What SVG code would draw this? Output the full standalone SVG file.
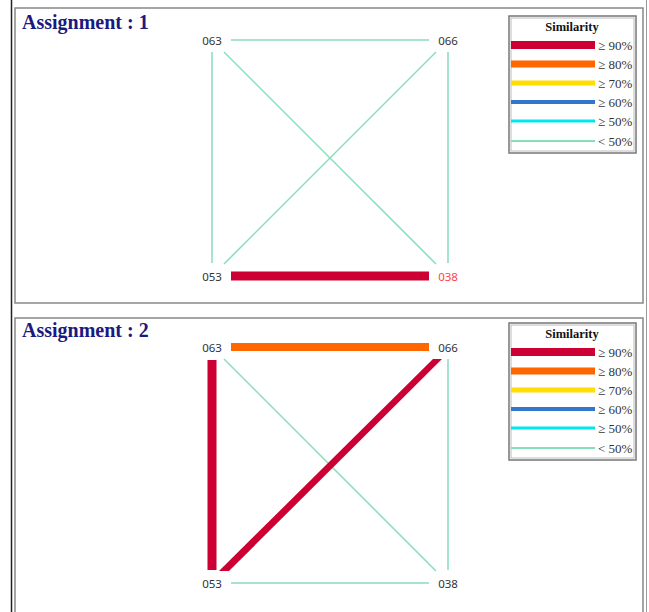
<svg xmlns="http://www.w3.org/2000/svg" width="649" height="612" viewBox="0 0 649 612">
<style>
.title{font-family:"Liberation Serif",serif;font-weight:bold;font-size:20px;fill:#1a1a80}
.lbl{font-family:"Noto Sans","DejaVu Sans",sans-serif;font-size:11.5px;fill:#333;text-anchor:middle;dominant-baseline:central}
.lgt{font-family:"Liberation Serif",serif;font-weight:bold;font-size:12.5px;fill:#111;text-anchor:middle}
.lgl{font-family:"Liberation Serif",serif;font-size:13px;fill:#333;dominant-baseline:central}
.panel{fill:#fff;stroke:#888;stroke-width:1.5}
.panelIn{fill:none;stroke:#bbb;stroke-width:1}
.lgbox{fill:#fff;stroke:#777;stroke-width:1.5}
.lgboxIn{fill:none;stroke:#bbb;stroke-width:1}
.c90{stroke:#cc0033;fill:none}
.c80{stroke:#ff6600;fill:none}
.c70{stroke:#ffdd00;fill:none}
.c60{stroke:#3377cc;fill:none}
.c50{stroke:#00e8ee;fill:none}
.c0{stroke:#88ddbb;fill:none}
</style>
<rect width="649" height="612" fill="#fff"/>
<line x1="11.5" y1="0" x2="11.5" y2="612" stroke="#222" stroke-width="1.5"/>
<line x1="646.5" y1="0" x2="646.5" y2="612" stroke="#999" stroke-width="1"/>

<g id="panel1">
<rect class="panel" x="15" y="8" width="628" height="295"/>
<text class="title" x="22" y="29">Assignment : 1</text>
</g>
<g id="legend1">
<rect class="lgbox" x="509" y="16" width="127" height="137"/>
<rect class="lgboxIn" x="511" y="18" width="123" height="133"/>
<text class="lgt" x="572" y="31">Similarity</text>
<line class="c90" x1="511" y1="45" x2="595" y2="45" stroke-width="8"/><text class="lgl" x="598" y="45">≥ 90%</text>
<line class="c80" x1="511" y1="64" x2="595" y2="64" stroke-width="7"/><text class="lgl" x="598" y="64">≥ 80%</text>
<line class="c70" x1="511" y1="83" x2="595" y2="83" stroke-width="5"/><text class="lgl" x="598" y="83">≥ 70%</text>
<line class="c60" x1="511" y1="102" x2="595" y2="102" stroke-width="4"/><text class="lgl" x="598" y="102">≥ 60%</text>
<line class="c50" x1="511" y1="121" x2="595" y2="121" stroke-width="3"/><text class="lgl" x="598" y="121">≥ 50%</text>
<line class="c0" x1="511" y1="141" x2="595" y2="141" stroke-width="2"/><text class="lgl" x="598" y="141">&lt; 50%</text>
</g>
<g id="connectors1">
<line class="c0" x1="231" y1="40" x2="429" y2="40" stroke-width="1.5"/>
<line class="c0" x1="212" y1="52" x2="212" y2="263" stroke-width="1.5"/>
<line class="c0" x1="448" y1="52" x2="448" y2="263" stroke-width="1.5"/>
<line class="c0" x1="224" y1="52" x2="436" y2="264" stroke-width="1.5"/>
<line class="c0" x1="436" y1="52" x2="224" y2="264" stroke-width="1.5"/>
<line class="c90" x1="231" y1="276" x2="429" y2="276" stroke-width="9"/>
</g>
<g id="n1-063"><text class="lbl" x="212" y="40">063</text></g>
<g id="n1-066"><text class="lbl" x="448" y="40">066</text></g>
<g id="n1-053"><text class="lbl" x="212" y="276">053</text></g>
<g id="n1-038"><text class="lbl" x="448" y="276" style="fill:#ff4444">038</text></g>

<g id="panel2">
<rect class="panel" x="15" y="318" width="628" height="300"/>
<text class="title" x="22" y="337">Assignment : 2</text>
</g>
<g id="legend2">
<rect class="lgbox" x="509" y="323" width="127" height="137"/>
<rect class="lgboxIn" x="511" y="325" width="123" height="133"/>
<text class="lgt" x="572" y="338">Similarity</text>
<line class="c90" x1="511" y1="352" x2="595" y2="352" stroke-width="8"/><text class="lgl" x="598" y="352">≥ 90%</text>
<line class="c80" x1="511" y1="371" x2="595" y2="371" stroke-width="7"/><text class="lgl" x="598" y="371">≥ 80%</text>
<line class="c70" x1="511" y1="390" x2="595" y2="390" stroke-width="5"/><text class="lgl" x="598" y="390">≥ 70%</text>
<line class="c60" x1="511" y1="409" x2="595" y2="409" stroke-width="4"/><text class="lgl" x="598" y="409">≥ 60%</text>
<line class="c50" x1="511" y1="428" x2="595" y2="428" stroke-width="3"/><text class="lgl" x="598" y="428">≥ 50%</text>
<line class="c0" x1="511" y1="448" x2="595" y2="448" stroke-width="2"/><text class="lgl" x="598" y="448">&lt; 50%</text>
</g>
<g id="connectors2">
<line class="c80" x1="231" y1="347" x2="429" y2="347" stroke-width="8"/>
<line class="c90" x1="212" y1="360" x2="212" y2="570" stroke-width="9"/>
<line class="c0" x1="448" y1="359" x2="448" y2="570" stroke-width="1.5"/>
<line class="c0" x1="224" y1="359" x2="436" y2="571" stroke-width="1.5"/>
<polygon fill="#cc0033" points="433,359 442,359 229,571 219,571"/>
<line class="c0" x1="231" y1="583" x2="429" y2="583" stroke-width="1.5"/>
</g>
<g id="n2-063"><text class="lbl" x="212" y="347">063</text></g>
<g id="n2-066"><text class="lbl" x="448" y="347">066</text></g>
<g id="n2-053"><text class="lbl" x="212" y="583">053</text></g>
<g id="n2-038"><text class="lbl" x="448" y="583">038</text></g>
</svg>
